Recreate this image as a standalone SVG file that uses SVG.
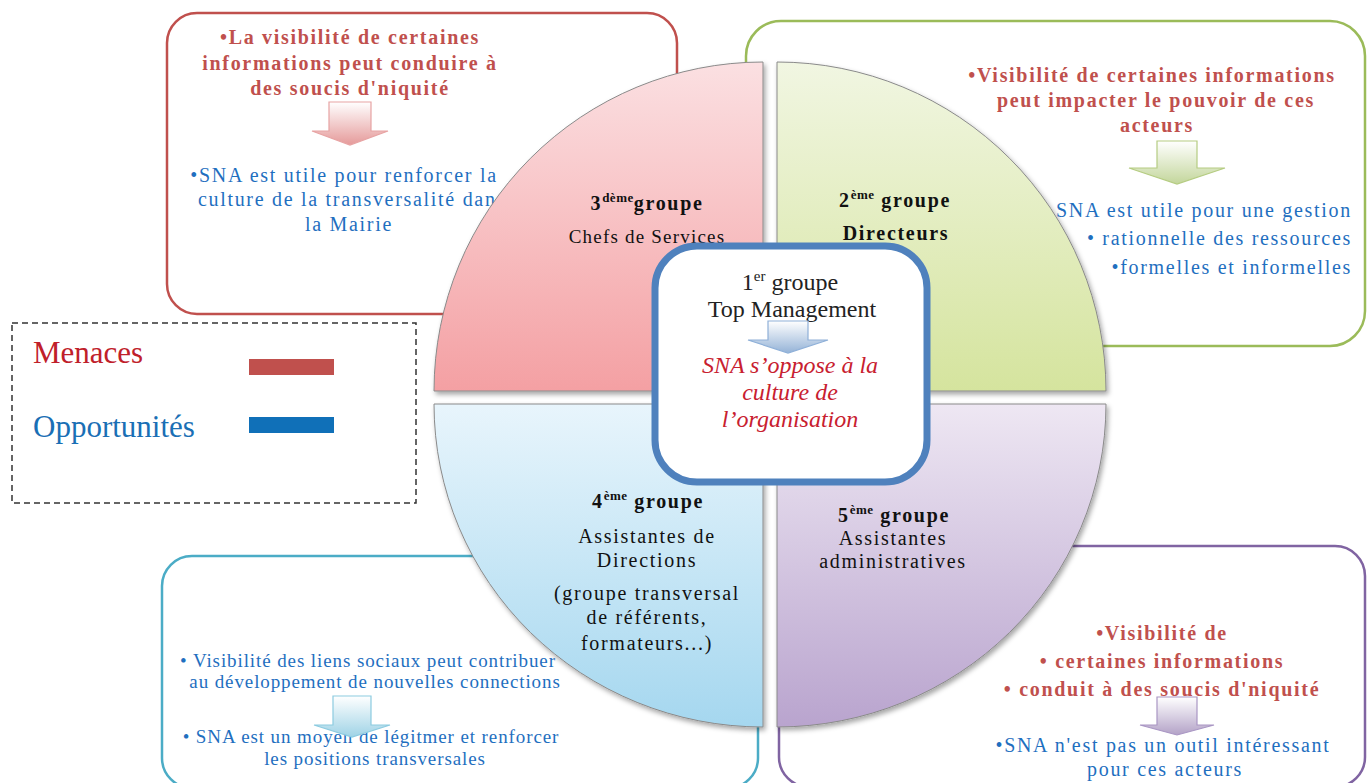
<svg xmlns="http://www.w3.org/2000/svg" width="1367" height="783" viewBox="0 0 1367 783">
<defs>
<style>
.frame{fill:#fff;stroke-width:2.5}
.t{font-family:"Liberation Serif","Times New Roman",serif;font-size:20px;letter-spacing:1.7px}
.red{fill:#c0504d;font-weight:bold}
.blue{fill:#1f6fbf}
.sm{font-size:19px;letter-spacing:0.9px}
.lbl{font-family:"Liberation Serif","Times New Roman",serif;font-size:20px;fill:#111;letter-spacing:1.7px;text-anchor:middle}
.b{font-weight:bold}
.sup{font-size:13px;letter-spacing:0.5px}
.q{stroke:#8a8a8a;stroke-width:1;filter:url(#sh)}
.arr{stroke-width:1.2}
.ctr{font-family:"Liberation Serif","Times New Roman",serif;font-size:24px;text-anchor:middle}
</style>
<filter id="sh" x="-10%" y="-10%" width="130%" height="130%">
<feDropShadow dx="2" dy="3" stdDeviation="2.5" flood-color="#000" flood-opacity="0.35"/>
</filter>
<linearGradient id="gPink" x1="0" y1="0" x2="0" y2="1"><stop offset="0" stop-color="#fbe0e2"/><stop offset="1" stop-color="#f4a0a3"/></linearGradient>
<linearGradient id="gGreen" x1="0" y1="0" x2="0" y2="1"><stop offset="0" stop-color="#f1f6e2"/><stop offset="1" stop-color="#d5e49e"/></linearGradient>
<linearGradient id="gBlue" x1="0" y1="0" x2="0" y2="1"><stop offset="0" stop-color="#e8f5fc"/><stop offset="1" stop-color="#a5d7ef"/></linearGradient>
<linearGradient id="gPurple" x1="0" y1="0" x2="0" y2="1"><stop offset="0" stop-color="#eee7f3"/><stop offset="1" stop-color="#b9a4ce"/></linearGradient>
<linearGradient id="aPink" x1="0" y1="0" x2="0" y2="1"><stop offset="0" stop-color="#ffffff"/><stop offset="1" stop-color="#e59a9a"/></linearGradient>
<linearGradient id="aGreen" x1="0" y1="0" x2="0" y2="1"><stop offset="0" stop-color="#ffffff"/><stop offset="1" stop-color="#c3d69b"/></linearGradient>
<linearGradient id="aBlue" x1="0" y1="0" x2="0" y2="1"><stop offset="0" stop-color="#ffffff"/><stop offset="1" stop-color="#95b3d7"/></linearGradient>
<linearGradient id="aCyan" x1="0" y1="0" x2="0" y2="1"><stop offset="0" stop-color="#ffffff"/><stop offset="1" stop-color="#9fd3e6"/></linearGradient>
<linearGradient id="aPurple" x1="0" y1="0" x2="0" y2="1"><stop offset="0" stop-color="#ffffff"/><stop offset="1" stop-color="#b3a2c7"/></linearGradient>
</defs>
<rect width="1367" height="783" fill="#fff"/>

<!-- note frames (under quadrants) -->
<g id="note-3-frame"><rect class="frame" x="167" y="13" width="510" height="301" rx="30" stroke="#c0504d"/></g>
<g id="note-2-frame"><rect class="frame" x="746" y="21" width="619" height="325" rx="35" stroke="#9bbb59"/></g>
<g id="note-4-frame"><rect class="frame" x="162" y="556" width="596" height="232" rx="30" stroke="#4bacc6"/></g>
<g id="note-5-frame"><rect class="frame" x="779" y="546" width="586" height="241" rx="30" stroke="#8064a2"/></g>

<!-- top-left note text (partly covered by the quadrant) -->
<g id="note-3-text">
<text class="t red" text-anchor="middle" x="350" y="44">•La visibilité de certaines</text>
<text class="t red" text-anchor="middle" x="350" y="70">informations peut conduire à</text>
<text class="t red" text-anchor="middle" x="350" y="95">des soucis d'niquité</text>
<path class="arr" d="M329,102 H371 V131 H388 L350,145 L312,131 H329 Z" fill="url(#aPink)" stroke="#e7a3a3"/>
<text class="t blue" text-anchor="middle" x="344" y="182">•SNA est utile pour renforcer la</text>
<text class="t blue" text-anchor="middle" x="352" y="206">culture de la transversalité dans</text>
<text class="t blue" text-anchor="middle" x="349" y="231">la Mairie</text>
</g>

<!-- quadrants -->
<g id="group-3">
<path class="q" d="M763,391 L434,391 A329,329 0 0 1 763,62 Z" fill="url(#gPink)"/>
<text class="lbl b" x="647" y="210">3<tspan class="sup" dy="-8">dème</tspan><tspan dy="8">groupe</tspan></text>
<text class="lbl" x="647" y="243" style="font-size:19px;letter-spacing:1.2px">Chefs de Services</text>
</g>
<g id="group-2">
<path class="q" d="M777,391 L777,62 A329,329 0 0 1 1106,391 Z" fill="url(#gGreen)"/>
<text class="lbl b" x="895" y="207">2<tspan class="sup" dy="-8">ème</tspan><tspan dy="8"> groupe</tspan></text>
<text class="lbl b" x="896" y="240">Directeurs</text>
</g>
<g id="group-4">
<path class="q" d="M763,404 L434,404 A329,323 0 0 0 763,727 Z" fill="url(#gBlue)"/>
<text class="lbl b" x="648" y="508">4<tspan class="sup" dy="-8">ème</tspan><tspan dy="8"> groupe</tspan></text>
<text class="lbl" x="647" y="543">Assistantes de</text>
<text class="lbl" x="647" y="567">Directions</text>
<text class="lbl" x="647" y="600">(groupe transversal</text>
<text class="lbl" x="647" y="624">de référents,</text>
<text class="lbl" x="647" y="650">formateurs...)</text>
</g>
<g id="group-5">
<path class="q" d="M777,404 L1106,404 A329,323 0 0 1 777,727 Z" fill="url(#gPurple)"/>
<text class="lbl b" x="894" y="522">5<tspan class="sup" dy="-8">ème</tspan><tspan dy="8"> groupe</tspan></text>
<text class="lbl" x="893" y="545">Assistantes</text>
<text class="lbl" x="893" y="568">administratives</text>
</g>

<!-- center node -->
<g id="group-1">
<rect x="655" y="246" width="272" height="236" rx="42" fill="#fff" stroke="#4f81bd" stroke-width="7"/>
<text class="ctr" x="790" y="290" fill="#222">1<tspan font-size="15" dy="-9">er</tspan><tspan dy="9"> groupe</tspan></text>
<text class="ctr" x="792" y="317" fill="#222">Top Management</text>
<path class="arr" d="M768,321 H808 V340 H828 L788,353 L748,340 H768 Z" fill="url(#aBlue)" stroke="#8fb0d8"/>
<text class="ctr" x="790" y="373" fill="#c8202f" font-style="italic">SNA s’oppose à la</text>
<text class="ctr" x="790" y="400" fill="#c8202f" font-style="italic">culture de</text>
<text class="ctr" x="790" y="427" fill="#c8202f" font-style="italic">l’organisation</text>
</g>

<!-- other note texts (on top of quadrants) -->
<g id="note-2-text">
<text class="t red" text-anchor="middle" x="1152" y="82">•Visibilité de certaines informations</text>
<text class="t red" text-anchor="middle" x="1156" y="107">peut impacter le pouvoir de ces</text>
<text class="t red" text-anchor="middle" x="1157" y="132">acteurs</text>
<path class="arr" d="M1157,141 H1197 V168 H1225 L1177,184 L1129,168 H1157 Z" fill="url(#aGreen)" stroke="#b5cc82"/>
<text class="t blue" text-anchor="end" x="1352" y="217">SNA est utile pour une gestion</text>
<text class="t blue" text-anchor="end" x="1352" y="245">• rationnelle des ressources</text>
<text class="t blue" text-anchor="end" x="1352" y="274">•formelles et informelles</text>
</g>
<g id="note-4-text">
<text class="t blue sm" text-anchor="middle" x="368" y="667">• Visibilité des liens sociaux peut contribuer</text>
<text class="t blue sm" text-anchor="middle" x="375" y="688">au développement de nouvelles connections</text>
<text class="t blue sm" text-anchor="middle" x="371" y="743">• SNA est un moyen de légitmer  et renforcer</text>
<text class="t blue sm" text-anchor="middle" x="375" y="765">les positions transversales</text>
<path class="arr" d="M333,696 H371 V725 H390 L352,737 L314,725 H333 Z" fill="url(#aCyan)" stroke="#8ccbe0"/>
</g>
<g id="note-5-text">
<text class="t red" text-anchor="middle" x="1162" y="640">•Visibilité de</text>
<text class="t red" text-anchor="middle" x="1162" y="668">• certaines informations</text>
<text class="t red" text-anchor="middle" x="1162" y="696">• conduit à des soucis d'niquité</text>
<text class="t blue" text-anchor="middle" x="1163" y="752">•SNA n'est pas un outil intéressant</text>
<text class="t blue" text-anchor="middle" x="1165" y="776">pour ces acteurs</text>
<path class="arr" d="M1157,697 H1197 V725 H1214 L1177,735 L1140,725 H1157 Z" fill="url(#aPurple)" stroke="#a996c4"/>
</g>

<!-- legend -->
<g id="legend">
<rect x="12" y="323" width="404" height="180" fill="none" stroke="#333" stroke-width="1.5" stroke-dasharray="6,4"/>
<text x="33" y="363" font-family="Liberation Serif, serif" font-size="31" fill="#c0202a">Menaces</text>
<rect x="249" y="359" width="85" height="16" fill="#c0504d"/>
<text x="33" y="437" font-family="Liberation Serif, serif" font-size="31" fill="#1a6fb5">Opportunités</text>
<rect x="249" y="417" width="85" height="16" fill="#1070b8"/>
</g>

<g id="connectors"></g>
</svg>
